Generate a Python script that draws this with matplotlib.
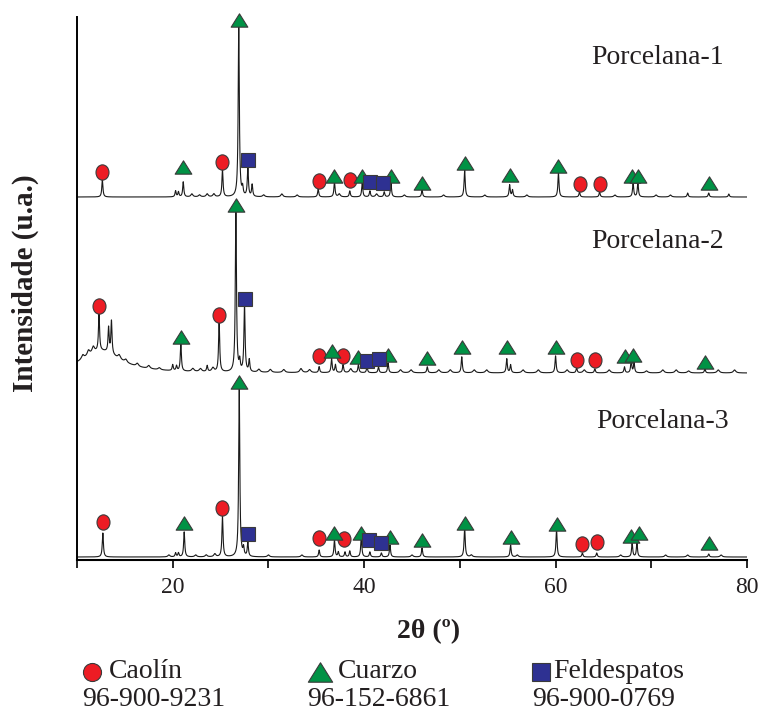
import numpy as np
import matplotlib
matplotlib.use("Agg")
import matplotlib.pyplot as plt
from matplotlib.path import Path
from matplotlib.transforms import Affine2D

plt.rcParams['font.family'] = ['Liberation Serif', 'DejaVu Serif']

# 2-theta grid (degrees)
two_theta = np.linspace(10, 80, 7001)

# Porcelana-1: peak positions / intensities (a.u.), baseline offset
p1_pos = [12.65, 20.3, 20.6, 21.1, 25.2, 26.9, 27.3, 27.85, 28.3, 35.2, 36.9, 38.5,
          39.8, 40.6, 42.1, 42.8, 46.05, 50.5, 55.2, 55.5, 60.3, 62.5, 64.6, 68.1,
          68.6, 73.8, 76.0, 78.1]
p1_int = [17, 6, 5, 15, 27, 172, 8, 29, 12, 8, 15, 6,
          14, 6, 5, 14, 7, 27, 12, 7, 24, 5, 5, 14,
          14, 4, 4, 3]
p1_minor_pos = [22.0, 22.8, 23.6, 24.3, 29.5, 31.4, 33.0, 37.4, 41.3, 44.2, 48.3, 52.6,
                57.0, 66.2, 70.5, 72.0]
p1_minor_int = [3, 2, 3, 3, 2, 3, 2, 3, 3, 2, 2, 2, 2, 2, 2, 2]
p1_base = 363

# Porcelana-2
p2_pos = [12.3, 13.3, 13.6, 20.0, 20.4, 20.85, 23.6, 24.85, 26.6, 27.0, 27.5, 28.0,
          35.3, 36.6, 37.0, 37.8, 39.4, 40.3, 41.5, 42.5, 46.6, 50.2, 54.9, 55.3,
          60.0, 62.2, 64.1, 67.2, 67.9, 68.2, 75.6]
p2_int = [37, 25, 33, 6, 5, 27, 6, 51, 164, 10, 69, 12,
          6, 14, 8, 8, 8, 6, 6, 10, 6, 16, 14, 8,
          17, 5, 4, 6, 12, 10, 4]
p2_minor_pos = [10.6, 11.2, 11.7, 14.4, 15.1, 16.3, 17.5, 18.6, 22.1, 22.9, 24.2, 29.0,
                30.2, 31.6, 33.4, 34.3, 38.6, 43.8, 44.9, 47.8, 49.0, 51.5, 52.8, 56.6,
                58.2, 61.2, 63.0, 65.6, 69.5, 71.2, 72.6, 73.9, 77.0, 78.7]
p2_minor_int = [4, 5, 6, 4, 3, 3, 3, 2, 3, 3, 4, 3,
                3, 3, 4, 3, 4, 3, 3, 3, 3, 3, 3, 3,
                3, 3, 3, 3, 2, 3, 3, 2, 3, 3]
p2_hump_pos = [12.5]
p2_hump_int = [22]
p2_hump_fwhm = [5.0]
p2_base = 187

# Porcelana-3
p3_pos = [12.7, 20.3, 20.6, 21.2, 25.2, 26.95, 27.4, 27.85, 35.3, 36.9, 37.3, 38.0,
          38.5, 39.7, 40.6, 41.8, 42.7, 46.05, 50.5, 55.3, 60.1, 62.8, 64.3, 68.0,
          68.5, 76.0]
p3_int = [24, 4, 4, 25, 40, 170, 8, 14, 7, 17, 5, 5,
          6, 20, 5, 4, 12, 9, 30, 12, 28, 4, 4, 14,
          14, 3]
p3_minor_pos = [19.6, 22.4, 23.5, 24.4, 30.0, 33.5, 45.0, 51.2, 56.0, 66.8, 71.5, 73.8,
                77.3]
p3_minor_int = [2, 2, 2, 3, 2, 2, 2, 2, 2, 2, 2, 2, 2]
p3_base = 3

# phase markers (2theta, height)
p1_caolin_x = [12.65, 25.2, 35.3, 38.5, 62.5, 64.6]
p1_caolin_y = [388, 398, 379, 380, 376, 376]
p1_cuarzo_x = [21.1, 26.9, 36.9, 39.8, 42.8, 46.05, 50.5, 55.2, 60.3, 68.0, 68.6, 76.0]
p1_cuarzo_y = [393, 540, 384, 384, 384, 377, 397, 385, 394, 384, 384, 377]
p1_feld_x = [27.85, 40.6, 42.0]
p1_feld_y = [400, 378, 377]

p2_caolin_x = [12.3, 24.85, 35.3, 37.8, 62.2, 64.1]
p2_caolin_y = [254, 245, 204, 204, 200, 200]
p2_cuarzo_x = [20.85, 26.6, 36.6, 39.4, 42.5, 46.6, 50.2, 54.9, 60.0, 67.3, 68.1, 75.6]
p2_cuarzo_y = [223, 355, 209, 203, 205, 202, 213, 213, 213, 204, 205, 198]
p2_feld_x = [27.5, 40.3, 41.5]
p2_feld_y = [261, 199, 201]

p3_caolin_x = [12.7, 25.2, 35.3, 37.9, 62.8, 64.3]
p3_caolin_y = [38, 52, 22, 21, 16, 18]
p3_cuarzo_x = [21.2, 26.95, 36.9, 39.7, 42.7, 46.05, 50.5, 55.3, 60.1, 67.9, 68.7, 76.0]
p3_cuarzo_y = [37, 178, 27, 27, 23, 20, 37, 23, 36, 24, 27, 17]
p3_feld_x = [27.85, 40.5, 41.8]
p3_feld_y = [26, 20, 17]

sample_names = ["Porcelana-1", "Porcelana-2", "Porcelana-3"]
name_x = [63.7, 63.7, 64.2]
name_y = [502, 318, 138]

phase_names = ["Caolín", "Cuarzo", "Feldespatos"]
phase_cards = ["96-900-9231", "96-152-6861", "96-900-0769"]


def add_peaks(y, pos, inten, fwhm):
    for p, h in zip(pos, inten):
        y = y + h / (1 + ((two_theta - p) / (fwhm / 2)) ** 2)
    return y


def add_broad(y, pos, inten, widths):
    for p, h, w in zip(pos, inten, widths):
        y = y + h / (1 + ((two_theta - p) / (w / 2)) ** 2)
    return y


y1 = np.full_like(two_theta, float(p1_base))
y1 = add_peaks(y1, p1_pos, p1_int, 0.14)
y1 = add_peaks(y1, p1_minor_pos, p1_minor_int, 0.25)

y2 = np.full_like(two_theta, float(p2_base))
y2 = add_peaks(y2, p2_pos, p2_int, 0.14)
y2 = add_peaks(y2, p2_minor_pos, p2_minor_int, 0.3)
y2 = add_broad(y2, p2_hump_pos, p2_hump_int, p2_hump_fwhm)

y3 = np.full_like(two_theta, float(p3_base))
y3 = add_peaks(y3, p3_pos, p3_int, 0.14)
y3 = add_peaks(y3, p3_minor_pos, p3_minor_int, 0.25)

# marker shapes
circle_m = Path.unit_circle().transformed(Affine2D().scale(0.85, 1.0))
tri_m = Path([(0, 0.8), (-1, -0.8), (1, -0.8), (0, 0.8)],
             [Path.MOVETO, Path.LINETO, Path.LINETO, Path.CLOSEPOLY])
red = "#ED1C24"
green = "#009245"
blue = "#2E3192"
edge = "#3a3a3a"
txt = "#231F20"

fig = plt.figure(figsize=(7.6, 7.13), dpi=100)
ax = fig.add_axes([77 / 760, 1 - 560 / 713, 670 / 760, 543 / 713])

for y in (y1, y2, y3):
    ax.plot(two_theta, y, color="#1a1a1a", lw=0.8, zorder=2)

marker_sets = [
    (p1_caolin_x, p1_caolin_y, p1_cuarzo_x, p1_cuarzo_y, p1_feld_x, p1_feld_y),
    (p2_caolin_x, p2_caolin_y, p2_cuarzo_x, p2_cuarzo_y, p2_feld_x, p2_feld_y),
    (p3_caolin_x, p3_caolin_y, p3_cuarzo_x, p3_cuarzo_y, p3_feld_x, p3_feld_y),
]
for cx, cy, qx, qy, fx, fy in marker_sets:
    ax.plot(cx, cy, ls="none", marker=circle_m, ms=11, mfc=red, mec=edge, mew=0.8,
            zorder=4, clip_on=False)
    ax.plot(qx, qy, ls="none", marker=tri_m, ms=12, mfc=green, mec=edge, mew=0.8,
            zorder=4, clip_on=False)
    ax.plot(fx, fy, ls="none", marker="s", ms=9.4, mfc=blue, mec=edge, mew=0.8,
            zorder=4, clip_on=False)

for name, nx, ny in zip(sample_names, name_x, name_y):
    ax.text(nx, ny, name, fontsize=20, color=txt, ha="left", va="center")

ax.set_xlim(10, 80)
ax.set_ylim(0, 543)
ax.set_xticks([20, 40, 60, 80])
ax.set_xticks([10, 30, 50, 70], minor=True)
ax.set_yticks([])
ax.tick_params(axis="x", which="both", direction="out", length=6, width=1.2,
               labelsize=17, labelcolor=txt, pad=6)
for s in ("top", "right"):
    ax.spines[s].set_visible(False)
ax.spines["left"].set_linewidth(1.4)
ax.spines["bottom"].set_linewidth(1.5)

fig.text(429 / 760, 1 - 632 / 713, "2θ (º)", fontsize=20, fontweight="bold",
         color=txt, ha="center", va="center")
fig.text(25 / 760, 1 - 283 / 713, "Intensidade (u.a.)", fontsize=21,
         fontweight="bold", color=txt, rotation=90, ha="center", va="center")

# legend below the chart
leg_marker_x = [92, 320, 541]
leg_text_x = [109, 338, 553]
leg_card_x = [82, 307, 532]
leg_markers = [("o", red, 13), (tri_m, green, 17.5), ("s", blue, 13)]
for i in range(3):
    mk, col, ms = leg_markers[i]
    ax.plot([leg_marker_x[i] / 760], [1 - 672 / 713], transform=fig.transFigure,
            ls="none", marker=mk, ms=ms, mfc=col, mec=edge, mew=0.8, clip_on=False)
    fig.text(leg_text_x[i] / 760, 1 - 672 / 713, phase_names[i], fontsize=20,
             color=txt, ha="left", va="center")
    fig.text(leg_card_x[i] / 760, 1 - 700 / 713, phase_cards[i], fontsize=20,
             color=txt, ha="left", va="center")

fig.savefig("out.png", dpi=100)
